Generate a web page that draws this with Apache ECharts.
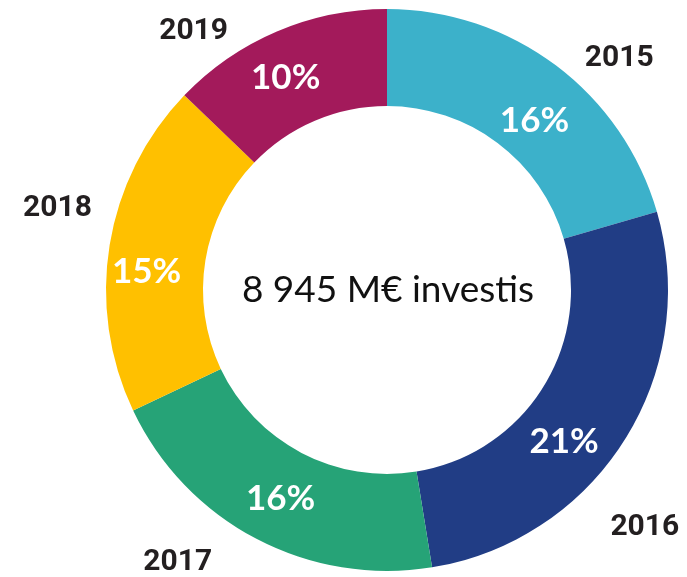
<!DOCTYPE html>
<html>
<head>
<meta charset="utf-8">
<script src="https://cdn.jsdelivr.net/npm/echarts@6/dist/echarts.min.js"></script>
<style>
  html, body { margin: 0; padding: 0; background: #fff; }
  #chart { width: 687px; height: 577px; }
</style>
</head>
<body>
<div id="chart"></div>
<script>
// --- Data ---
const years = ['2015', '2016', '2017', '2018', '2019'];
const shares = [16, 21, 16, 15, 10];   // % labels, slices are proportional to them
const sliceColors = ['#3cb1ca', '#213d85', '#26a377', '#ffc000', '#a31a5b'];
const centerText = '8 945 M€ investis';

// small nudges so labels sit where the original put them
const innerNudge = [[6, 19], [-22, 26], [3, 0], [-8, 19], [-9, 4]];
const outerNudge = [[12, 9], [-36, 77], [-30, 6], [2, -33], [-36, 15]];

const chart = echarts.init(document.getElementById('chart'), null, { renderer: 'canvas' });

const sliceData = years.map((y, i) => ({
    name: y,
    value: shares[i],
    itemStyle: { color: sliceColors[i] }
}));

chart.setOption({
    animation: false,
    title: {
        text: centerText,
        left: 383,
        top: 267,
        textAlign: 'center',
        textStyle: { fontFamily: 'Lato', fontSize: 37, fontWeight: 'normal', color: '#111' }
    },
    series: [
        {
            // coloured ring with % inside
            type: 'pie',
            center: [387, 290],
            radius: [184, 281],
            startAngle: 90,
            clockwise: true,
            silent: true,
            data: sliceData,
            itemStyle: { borderWidth: 0 },
            label: {
                show: true,
                position: 'inside',
                formatter: p => p.value + '%',
                color: '#fff',
                fontFamily: 'Lato',
                fontWeight: 'bold',
                fontSize: 35
            },
            labelLine: { show: false },
            labelLayout: p => ({ dx: innerNudge[p.dataIndex][0], dy: innerNudge[p.dataIndex][1] })
        },
        {
            // invisible twin ring that carries the year labels outside
            type: 'pie',
            center: [387, 290],
            radius: [184, 281],
            startAngle: 90,
            clockwise: true,
            silent: true,
            z: 1,
            data: years.map((y, i) => ({ name: y, value: shares[i] })),
            itemStyle: { color: 'rgba(0,0,0,0)' },
            label: {
                show: true,
                position: 'outside',
                alignTo: 'none',
                overflow: 'none',
                formatter: '{b}',
                color: '#231f20',
                fontFamily: 'Roboto',
                fontWeight: 'bold',
                fontSize: 30
            },
            labelLine: { show: false, length: 20, length2: 0 },
            labelLayout: p => ({ dx: outerNudge[p.dataIndex][0], dy: outerNudge[p.dataIndex][1] })
        }
    ]
});
</script>
</body>
</html>
